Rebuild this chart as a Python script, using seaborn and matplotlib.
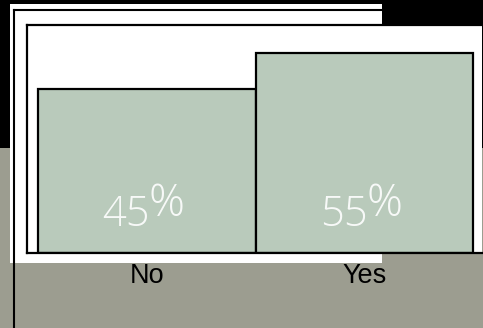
import matplotlib
matplotlib.use("Agg")
import matplotlib.pyplot as plt
import seaborn as sns
import pandas as pd
from matplotlib.patches import Rectangle
from matplotlib.lines import Line2D

categories = ["No", "Yes"]
values = [45, 55]
value_labels = ["45", "55"]
suffix = "%"

W, H = 483, 328
fig = plt.figure(figsize=(W / 100, H / 100), dpi=100)
fig.patch.set_facecolor("#9c9d90")

def fx(px):
    return px / W

def fy(py):
    return 1 - py / H

# background decorations
fig.patches.append(Rectangle((0, fy(148)), 1, 148 / H, transform=fig.transFigure,
                             facecolor="black", edgecolor="none", zorder=-3))
fig.patches.append(Rectangle((fx(10), fy(263)), fx(372), (263 - 4) / H, transform=fig.transFigure,
                             facecolor="white", edgecolor="none", zorder=-2))
fig.lines.append(Line2D([fx(14), fx(14)], [fy(10), 0], transform=fig.transFigure,
                        color="black", lw=1.5, zorder=-1))
fig.lines.append(Line2D([fx(14), fx(382)], [fy(10), fy(10)], transform=fig.transFigure,
                        color="black", lw=1.5, zorder=-1))

ax = fig.add_axes([fx(27), fy(253), fx(482 - 27), (253 - 25) / H])
ax.set_zorder(5)
ax.set_facecolor("white")

df = pd.DataFrame({"cat": categories, "val": values})
sns.barplot(data=df, x="cat", y="val", color="#b9cabb", saturation=1, width=1.0,
            edgecolor="black", linewidth=1.6, ax=ax)

ax.set_xlim(-0.55, 1.54)
ax.set_ylim(0, 62.7)
ax.set_xlabel("")
ax.set_ylabel("")
ax.set_yticks([])
ax.tick_params(axis="x", length=0, pad=7)
for lab in ax.get_xticklabels():
    lab.set_family(["Liberation Sans Narrow", "Liberation Sans", "DejaVu Sans"])
    lab.set_fontsize(19.5)
    lab.set_color("black")
    lab.set_stretch("condensed")
for s in ["left", "top", "bottom"]:
    ax.spines[s].set_color("black")
    ax.spines[s].set_linewidth(1.6)
ax.spines["right"].set_visible(False)

for i, lab in enumerate(value_labels):
    ax.annotate(lab, xy=(i, 0), xytext=(3, 27), textcoords="offset pixels",
                ha="right", va="baseline", fontsize=30, color="white", alpha=0.9,
                family=["Open Sans", "DejaVu Sans"], fontweight="light")
    ax.annotate(suffix, xy=(i, 0), xytext=(2, 37), textcoords="offset pixels",
                ha="left", va="baseline", fontsize=32, color="white", alpha=0.9,
                family=["Open Sans", "DejaVu Sans"], fontweight="light")

fig.savefig("out.png", dpi=100, facecolor=fig.get_facecolor())
